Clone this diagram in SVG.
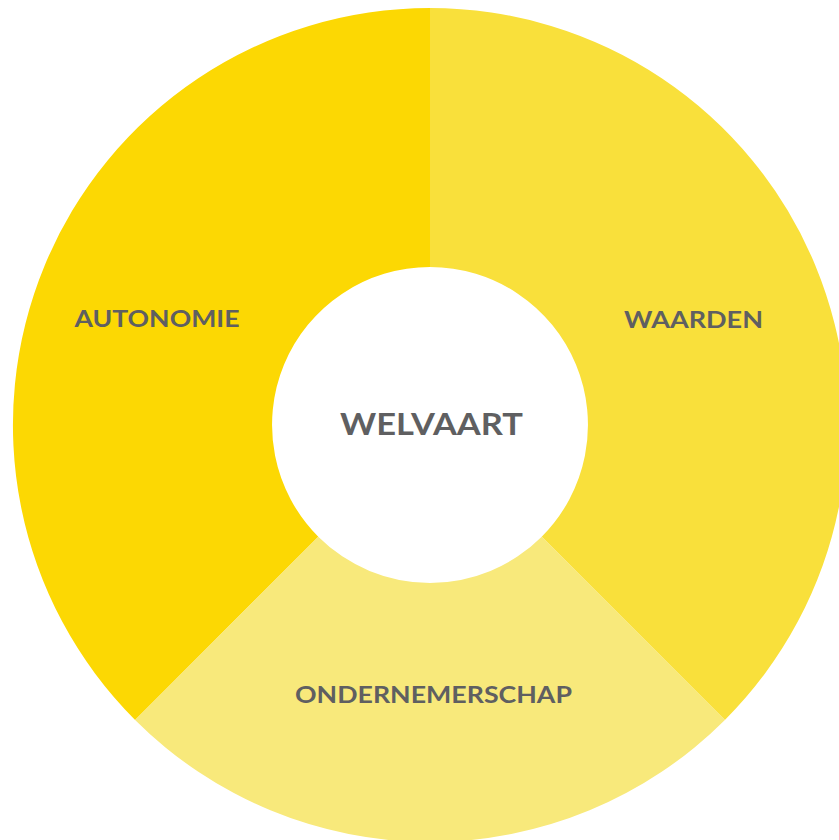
<svg xmlns="http://www.w3.org/2000/svg" width="839" height="840" viewBox="0 0 839 840">
<style>
.lbl{font-family:"Lato","Open Sans","Liberation Sans",sans-serif;font-weight:bold;fill:#5f5f61;text-anchor:middle}
</style>
<rect width="839" height="840" fill="#ffffff"/>
<g id="autonomie">
<path d="M135.1 719.9 A417 417 0 0 1 430 8 L430 267 A158 158 0 0 0 318.3 536.7 Z" fill="#fcd803"/>
<text class="lbl" x="157" y="327" font-size="23" textLength="165" lengthAdjust="spacingAndGlyphs">AUTONOMIE</text>
</g>
<g id="waarden">
<path d="M430 8 A417 417 0 0 1 724.9 719.9 L541.7 536.7 A158 158 0 0 0 430 267 Z" fill="#f9e03b"/>
<text class="lbl" x="693.5" y="328" font-size="23" textLength="139" lengthAdjust="spacingAndGlyphs">WAARDEN</text>
</g>
<g id="ondernemerschap">
<path d="M724.9 719.9 A417 417 0 0 1 135.1 719.9 L318.3 536.7 A158 158 0 0 0 541.7 536.7 Z" fill="#f8e97b"/>
<text class="lbl" x="433.5" y="703" font-size="23" textLength="277" lengthAdjust="spacingAndGlyphs">ONDERNEMERSCHAP</text>
</g>
<g id="welvaart">
<text class="lbl" x="431.5" y="435" font-size="30" textLength="183" lengthAdjust="spacingAndGlyphs">WELVAART</text>
</g>
<g id="connectors"></g>
</svg>
